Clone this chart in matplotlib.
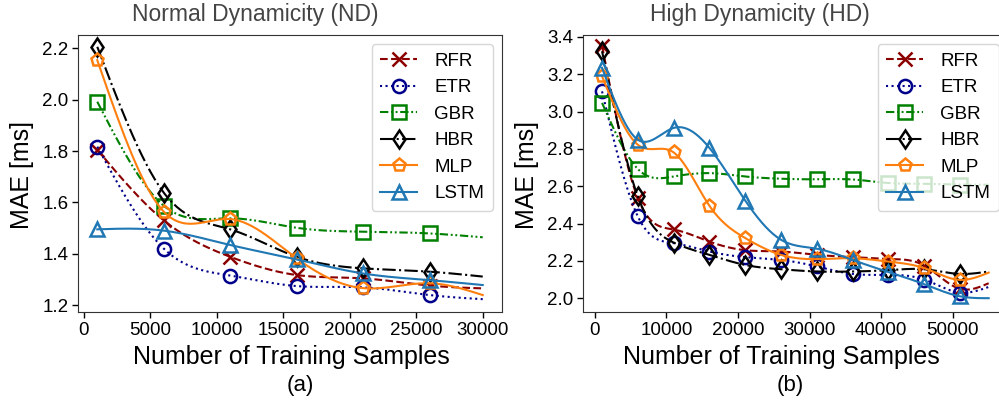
import numpy as np
import matplotlib
matplotlib.use("Agg")
import matplotlib.pyplot as plt

plt.rcParams['font.family'] = ['Liberation Sans', 'DejaVu Sans']

# ---- data ----
models = ['RFR', 'ETR', 'GBR', 'HBR', 'MLP', 'LSTM']

# normal dynamicity: markers at 1000..26000, curve tail at 30000 (no marker)
x_nd = [1000, 6000, 11000, 16000, 21000, 26000, 30000]
mae_nd = {
    'RFR': [1.805, 1.530, 1.388, 1.317, 1.304, 1.276, 1.265],
    'ETR': [1.817, 1.420, 1.315, 1.274, 1.269, 1.239, 1.223],
    'GBR': [1.992, 1.587, 1.538, 1.501, 1.486, 1.479, 1.464],
    'HBR': [2.206, 1.638, 1.495, 1.388, 1.343, 1.330, 1.311],
    'MLP': [2.154, 1.564, 1.535, 1.382, 1.266, 1.285, 1.239],
    'LSTM': [1.495, 1.490, 1.434, 1.378, 1.323, 1.297, 1.278],
}

# high dynamicity: markers at 1000..51000, curve tail at 55000 (no marker)
x_hd = [1000, 6000, 11000, 16000, 21000, 26000, 31000, 36000, 41000, 46000, 51000, 55000]
mae_hd = {
    'RFR': [3.353, 2.536, 2.368, 2.303, 2.257, 2.250, 2.232, 2.220, 2.210, 2.175, 2.050, 2.080],
    'ETR': [3.108, 2.438, 2.295, 2.250, 2.220, 2.205, 2.170, 2.130, 2.125, 2.100, 2.030, 2.060],
    'GBR': [3.046, 2.692, 2.652, 2.670, 2.652, 2.640, 2.637, 2.636, 2.617, 2.613, 2.608, 2.608],
    'HBR': [3.323, 2.545, 2.298, 2.232, 2.178, 2.155, 2.143, 2.143, 2.150, 2.155, 2.130, 2.143],
    'MLP': [3.189, 2.822, 2.781, 2.495, 2.322, 2.232, 2.209, 2.214, 2.196, 2.161, 2.098, 2.137],
    'LSTM': [3.234, 2.849, 2.912, 2.805, 2.523, 2.313, 2.265, 2.205, 2.140, 2.075, 2.010, 2.000],
}

styles = {
    'RFR': dict(color='#8b0000', ls='--', marker='x'),
    'ETR': dict(color='#00008b', ls=':', marker='o'),
    'GBR': dict(color='green', ls=(0, (4, 1.3, 0.9, 1.3, 0.9, 1.3)), marker='s'),
    'HBR': dict(color='black', ls='-.', marker='d'),
    'MLP': dict(color='#ff7f0e', ls='-', marker='p'),
    'LSTM': dict(color='#1f77b4', ls='-', marker='^'),
}


def smooth(xk, yk, n=30):
    # natural cubic spline through the read points, just for drawing
    xk = np.asarray(xk, float)
    yk = np.asarray(yk, float)
    m = len(xk)
    h = np.diff(xk)
    A = np.zeros((m, m))
    b = np.zeros(m)
    A[0, 0] = A[-1, -1] = 1
    for i in range(1, m - 1):
        A[i, i - 1] = h[i - 1]
        A[i, i] = 2 * (h[i - 1] + h[i])
        A[i, i + 1] = h[i]
        b[i] = 6 * ((yk[i + 1] - yk[i]) / h[i] - (yk[i] - yk[i - 1]) / h[i - 1])
    M = np.linalg.solve(A, b)
    xs, ys, idx = [], [], []
    for i in range(m - 1):
        t = np.linspace(xk[i], xk[i + 1], n, endpoint=False)
        a = xk[i + 1] - t
        c = t - xk[i]
        y = (M[i] * a**3 + M[i + 1] * c**3) / (6 * h[i]) \
            + (yk[i] / h[i] - M[i] * h[i] / 6) * a \
            + (yk[i + 1] / h[i] - M[i + 1] * h[i] / 6) * c
        idx.append(len(xs))
        xs.extend(t)
        ys.extend(y)
    xs.append(xk[-1])
    ys.append(yk[-1])
    return np.array(xs), np.array(ys), idx


def panel(ax, x, data, xticks, xlim, ylim, yticks):
    for name in models:
        st = styles[name]
        xs, ys, idx = smooth(x, data[name])
        ax.plot(xs, ys, color=st['color'], ls=st['ls'], lw=1.5,
                marker=st['marker'], markevery=idx, ms=9.5, mew=1.8,
                mfc='none', mec=st['color'], label=name)
    ax.set_xlim(*xlim)
    ax.set_ylim(*ylim)
    ax.set_xticks(xticks)
    ax.set_yticks(yticks)
    ax.set_yticklabels([f'{v:.1f}' for v in yticks])
    ax.tick_params(labelsize=13.5, length=4, width=1, pad=3)
    for sp in ax.spines.values():
        sp.set_color('#333333')
    ax.legend(loc='upper right', fontsize=13.5, labelspacing=0.5,
              handlelength=2.0, borderpad=0.45, handletextpad=0.9)


fig = plt.figure(figsize=(9.99, 4.07), dpi=100)
ax1 = fig.add_axes([78 / 999, 95 / 407, 424 / 999, 277 / 407])
ax2 = fig.add_axes([582.7 / 999, 95 / 407, 425.3 / 999, 277 / 407])

panel(ax1, x_nd, mae_nd, [0, 5000, 10000, 15000, 20000, 25000, 30000],
      (-450, 31450), (1.173, 2.252), [1.2, 1.4, 1.6, 1.8, 2.0, 2.2])
panel(ax2, x_hd, mae_hd, [0, 10000, 20000, 30000, 40000, 50000],
      (-1700, 57700), (1.926, 3.41), [2.0, 2.2, 2.4, 2.6, 2.8, 3.0, 3.2, 3.4])

fig.text(255 / 999, 1 - 15 / 407, 'Normal Dynamicity (ND)', ha='center', va='center',
         fontsize=16.5, color='#444444')
fig.text(760 / 999, 1 - 15 / 407, 'High Dynamicity (HD)', ha='center', va='center',
         fontsize=16.5, color='#444444')
fig.text(291 / 999, 1 - 357 / 407, 'Number of Training Samples', ha='center', va='center',
         fontsize=18)
fig.text(781 / 999, 1 - 357 / 407, 'Number of Training Samples', ha='center', va='center',
         fontsize=18)
fig.text(300 / 999, 1 - 385 / 407, '(a)', ha='center', va='center', fontsize=16)
fig.text(790 / 999, 1 - 385 / 407, '(b)', ha='center', va='center', fontsize=16)
fig.text(22 / 999, 1 - 175 / 407, 'MAE [ms]', ha='center', va='center', rotation=90,
         fontsize=18)
fig.text(527 / 999, 1 - 175 / 407, 'MAE [ms]', ha='center', va='center', rotation=90,
         fontsize=18)

fig.savefig('out.png', dpi=100)
